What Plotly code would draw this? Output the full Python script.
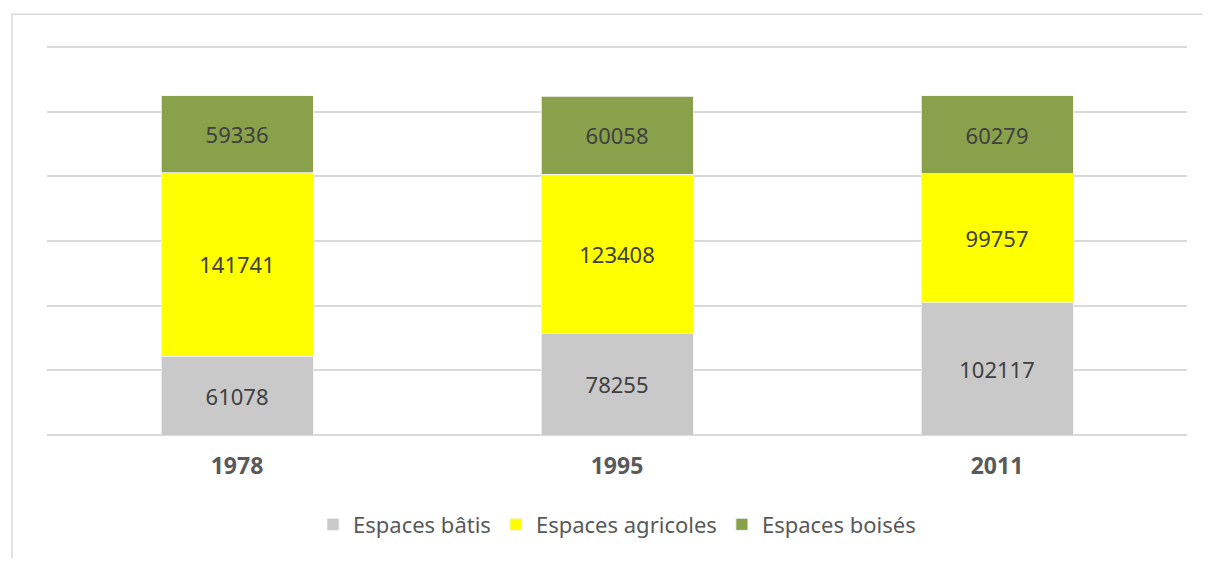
import plotly.graph_objects as go

years = ["1978", "1995", "2011"]
batis = [61078, 78255, 102117]
agricoles = [141741, 123408, 99757]
boises = [59336, 60058, 60279]
series_names = ["Espaces bâtis", "Espaces agricoles", "Espaces boisés"]
colors = ["#c9c9c9", "#ffff00", "#89a14b"]

FONT = "'Noto Sans', sans-serif"

fig = go.Figure()
for name, vals, col in zip(series_names, [batis, agricoles, boises], colors):
    fig.add_trace(go.Bar(
        x=years, y=vals, name=name,
        marker=dict(color=col, line=dict(color="#f2f2f2", width=0.8)),
        text=[str(v) for v in vals],
        textposition="inside", insidetextanchor="middle", textangle=0,
        textfont=dict(family=FONT, size=22, color="#404040"),
        hoverinfo="skip",
    ))

plot_h = 396
ymax = 300000 * plot_h / 390

fig.update_layout(
    barmode="stack",
    bargap=0.6,
    width=1194, height=550,
    margin=dict(l=39, r=15, t=33, b=121),
    paper_bgcolor="white", plot_bgcolor="white",
    showlegend=True,
    legend=dict(orientation="h", x=0.5, xanchor="center", y=-90/plot_h, yanchor="middle",
                font=dict(family=FONT, size=22, color="#595959"),
                itemwidth=30, traceorder="normal"),
    uniformtext=dict(mode=False),
    xaxis=dict(showgrid=False, showline=False, ticks="", ticklabelstandoff=15,
               tickfont=dict(family=FONT, size=23, color="#595959", weight="bold")),
    yaxis=dict(range=[0, ymax], tick0=0, dtick=50000, showgrid=True, gridcolor="#d9d9d9", gridwidth=1.5,
               showticklabels=False, zeroline=True, zerolinecolor="#d9d9d9", zerolinewidth=1.5,
               showline=False, ticks=""),
    shapes=[dict(type="rect", xref="paper", yref="paper",
                 x0=-35/1140, x1=1.05, y0=-0.5, y1=1 + 27/plot_h,
                 line=dict(color="#d9d9d9", width=1.5), layer="below")],
)

fig.write_html("out.html")
